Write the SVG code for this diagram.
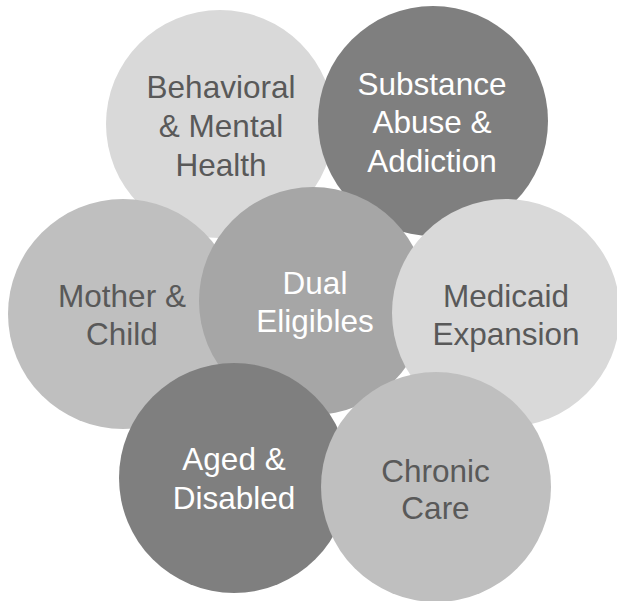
<svg xmlns="http://www.w3.org/2000/svg" width="617" height="601" viewBox="0 0 617 601">
<style>
.t{font-family:"Liberation Sans",Arial,sans-serif;font-size:31.5px;text-anchor:middle}
.d{fill:#595959}
.w{fill:#ffffff}
</style>
<rect width="617" height="601" fill="#ffffff"/>
<g id="behavioral">
<circle cx="220" cy="124" r="114" fill="#d9d9d9"/>
<text class="t d" x="221" y="98.3">Behavioral</text>
<text class="t d" x="221" y="137.3">&amp; Mental</text>
<text class="t d" x="221" y="175.7">Health</text>
</g>
<g id="substance">
<circle cx="433" cy="121" r="115" fill="#7f7f7f"/>
<text class="t w" x="432" y="95">Substance</text>
<text class="t w" x="432" y="133.3">Abuse &amp;</text>
<text class="t w" x="432" y="171.7">Addiction</text>
</g>
<g id="mother">
<circle cx="123" cy="314" r="115" fill="#bfbfbf"/>
<text class="t d" x="122" y="306.5">Mother &amp;</text>
<text class="t d" x="122" y="345">Child</text>
</g>
<g id="dual">
<circle cx="313" cy="301" r="114" fill="#a6a6a6"/>
<text class="t w" x="315" y="294.3">Dual</text>
<text class="t w" x="315" y="331.7">Eligibles</text>
</g>
<g id="medicaid">
<circle cx="506" cy="313" r="114" fill="#d9d9d9"/>
<text class="t d" x="506" y="306.5">Medicaid</text>
<text class="t d" x="506" y="345">Expansion</text>
</g>
<g id="aged">
<circle cx="234" cy="478" r="115" fill="#7f7f7f"/>
<text class="t w" x="234" y="470">Aged &amp;</text>
<text class="t w" x="234" y="509">Disabled</text>
</g>
<g id="chronic">
<circle cx="436" cy="487" r="115" fill="#bfbfbf"/>
<text class="t d" x="435.5" y="481.7">Chronic</text>
<text class="t d" x="435.5" y="519">Care</text>
</g>
<g id="connectors"/>
</svg>
